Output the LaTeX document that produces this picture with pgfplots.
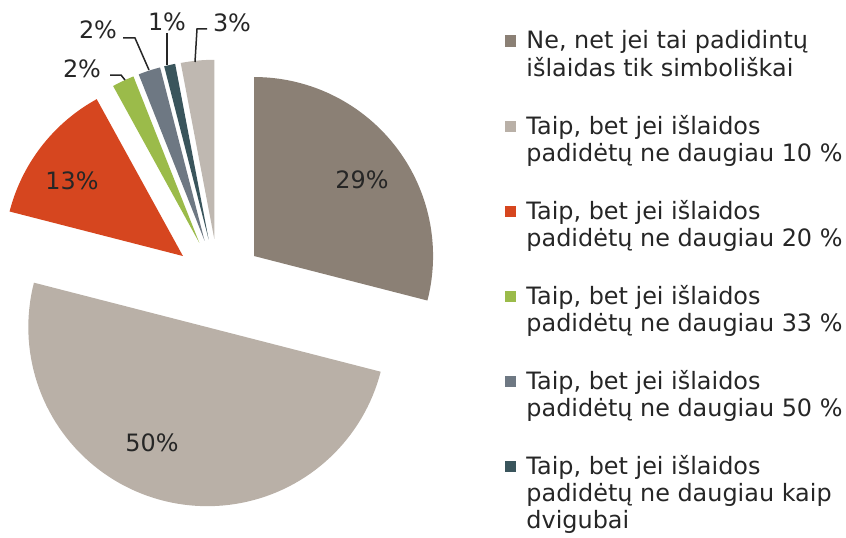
\documentclass[border=0pt]{standalone}
\usepackage{fontspec}
\setmainfont{DejaVu Sans}
\usepackage{pgfplots}
\pgfplotsset{compat=1.18}
\definecolor{cA}{HTML}{8B8075}
\definecolor{cB}{HTML}{B9B0A7}
\definecolor{cC}{HTML}{D6461F}
\definecolor{cD}{HTML}{9BBB4A}
\definecolor{cE}{HTML}{6E7883}
\definecolor{cF}{HTML}{3A555C}
\definecolor{cG}{HTML}{BFB8B1}
\definecolor{txt}{HTML}{262626}
% #1 = cumulative share before the slice (%), #2 = share of the slice (%), #3 = colour
\newcommand{\pieslice}[3]{%
\addplot[fill=#3, draw=none, domain={90-3.6*(#1+#2)}:{90-3.6*(#1)}, samples=90, variable=\t]
 ({218.5+45*cos(90-3.6*(#1+#2/2))+179*cos(\t)}, {253.4+45*sin(90-3.6*(#1+#2/2))+179*sin(\t)})
 -- (axis cs:{218.5+45*cos(90-3.6*(#1+#2/2))},{253.4+45*sin(90-3.6*(#1+#2/2))}) -- cycle;
}
\newcommand{\lf}{\fontsize{11.95}{13.5}\selectfont}
\newcommand{\entry}[1]{\begin{tabular}[t]{@{}l@{}}#1\end{tabular}}
\begin{document}
\begin{tikzpicture}
\begin{axis}[
  x=0.5pt, y=0.5pt, xmin=0, xmax=846, ymin=0, ymax=537,
  hide axis, clip=false,
  legend cell align=left,
  legend image code/.code={\fill[#1] (0pt,1pt) rectangle (5.75pt,6.75pt);},
  legend style={draw=none, fill=none, inner sep=0pt, outer sep=0pt,
    at={(axis description cs:0.5969,0.9441)}, anchor=north west,
    font=\lf, text=txt, row sep=31.5pt, column sep=5pt,
    cells={anchor=base west}, nodes={inner sep=0pt}},
]
\pieslice{0}{29}{cA}
\addlegendentry{\entry{Ne, net jei tai padidintų\\išlaidas tik simboliškai}}
\pieslice{29}{50}{cB}
\addlegendentry{\entry{Taip, bet jei išlaidos\\padidėtų ne daugiau 10 \%}}
\pieslice{79}{13}{cC}
\addlegendentry{\entry{Taip, bet jei išlaidos\\padidėtų ne daugiau 20 \%}}
\pieslice{92}{2}{cD}
\addlegendentry{\entry{Taip, bet jei išlaidos\\padidėtų ne daugiau 33 \%}}
\pieslice{94}{2}{cE}
\addlegendentry{\entry{Taip, bet jei išlaidos\\padidėtų ne daugiau 50 \%}}
\pieslice{96}{1}{cF}
\addlegendentry{\entry{Taip, bet jei išlaidos\\padidėtų ne daugiau kaip\\dvigubai}}
\pieslice{97}{3}{cG}
% labels
\begin{scope}[font=\lf, text=txt]
\node at (axis cs:362,357) {29\%};
\node at (axis cs:152,94) {50\%};
\node at (axis cs:72,356) {13\%};
\node at (axis cs:98,507) {2\%};
\node at (axis cs:82,468) {2\%};
\node at (axis cs:167,515) {1\%};
\node at (axis cs:232,514) {3\%};
\end{scope}
\begin{scope}[draw=txt, line width=0.75pt]
\draw (axis cs:123,499) -- (axis cs:135,499) -- (axis cs:149,467);
\draw (axis cs:110,462) -- (axis cs:121,462) -- (axis cs:125,457);
\draw (axis cs:167,504) -- (axis cs:167,472);
\draw (axis cs:207,508) -- (axis cs:197,508) -- (axis cs:195,475);
\end{scope}
\end{axis}
\pgfresetboundingbox
\path (current axis.south west) rectangle (current axis.north east);
\end{tikzpicture}
\end{document}
